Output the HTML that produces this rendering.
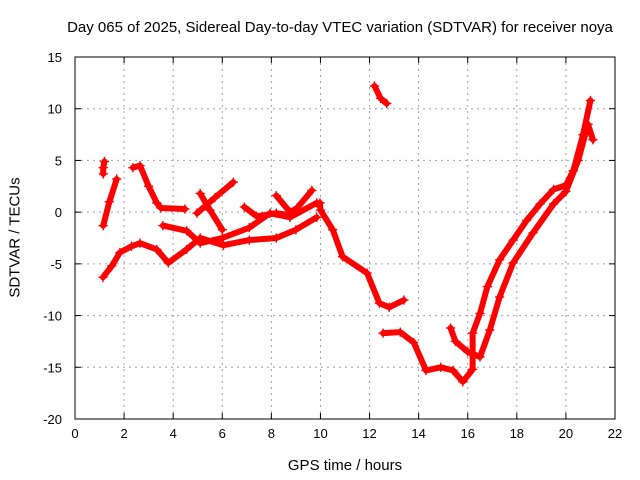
<!DOCTYPE html>
<html><head><meta charset="utf-8"><style>
body{margin:0;background:#fff}
svg{display:block;font-family:"Liberation Sans",sans-serif;font-size:13px}
</style></head><body>
<svg id="c" width="640" height="480"></svg>
<script>
const xTicks=[0,2,4,6,8,10,12,14,16,18,20,22];
const yTicks=[15,10,5,0,-5,-10,-15,-20];
const trackA=[[1.14,-6.3],[1.5,-5.2],[1.83,-3.9],[2.3,-3.3],[2.65,-3.0],[3.33,-3.6],[3.8,-4.9],[4.55,-3.6],[5.1,-2.5],[6.05,-3.2],[7.1,-2.7],[8.2,-2.5],[9.0,-1.7],[9.85,-0.5]];
const trackB=[[2.36,4.3],[2.65,4.5],[3.0,2.5],[3.33,0.9],[3.5,0.4],[4.48,0.3]];
const trackC=[[3.58,-1.3],[4.55,-1.8],[5.1,-3.0],[6.0,-2.5],[7.1,-1.5],[7.95,-0.1],[8.76,-0.5],[9.85,0.9]];
const trackD1=[[5.1,1.8],[5.5,0.2],[6.0,-1.7]];
const trackD2=[[4.97,-0.1],[5.7,1.4],[6.45,2.9]];
const trackE=[[6.9,0.5],[7.4,-0.4],[8.2,-0.1],[8.76,-0.3]];
const trackF=[[8.2,1.6],[8.76,0.0],[9.05,0.4],[9.65,2.1]];
const trackG=[[9.98,0.9],[10.0,0.2],[10.5,-1.7],[10.9,-4.3],[11.9,-5.9],[12.4,-8.8],[12.8,-9.2],[13.4,-8.5]];
const trackH=[[12.2,12.2],[12.45,11.0],[12.7,10.5]];
const trackI=[[12.55,-11.7],[13.25,-11.6],[13.8,-12.6],[14.3,-15.3],[14.9,-15.0],[15.4,-15.3],[15.8,-16.4],[16.2,-15.2],[16.2,-11.7],[16.5,-9.8],[16.8,-7.2],[17.3,-4.6],[17.85,-2.7],[18.4,-0.8],[18.95,0.8],[19.5,2.2],[20.0,2.6],[20.3,4.0],[20.7,7.5],[21.0,10.8]];
const trackJ=[[15.3,-11.2],[15.5,-12.5],[16.0,-13.5],[16.5,-14.0],[16.9,-11.4],[17.3,-8.2],[17.85,-4.9],[18.66,-2.0],[19.5,0.8],[20.0,2.0],[20.5,5.0],[20.9,8.5],[21.1,7.0]];
const trackK=[[1.15,-1.3],[1.4,1.0],[1.7,3.2]];
const trackL=[[1.15,3.7],[1.15,4.3],[1.2,4.9]];
const tracks=[trackA,trackB,trackC,trackD1,trackD2,trackE,trackF,trackG,trackH,trackI,trackJ,trackK,trackL];
const L=75,R=615,T=57,B=419;
const xs=h=>L+(h-0)/22*(R-L);
const ys=v=>T+(15-v)/35*(B-T);
const svg=document.getElementById('c');
const NS='http://www.w3.org/2000/svg';
function mk(tag,attrs,parent){const e=document.createElementNS(NS,tag);for(const k in attrs)e.setAttribute(k,attrs[k]);(parent||svg).appendChild(e);return e;}
const grid=mk('g',{});


xTicks.forEach(t=>{
  if(t>0&&t<22)mk('line',{x1:xs(t),x2:xs(t),y1:T,y2:B,stroke:'#a0a0a0','stroke-dasharray':'2,4'},grid);
  mk('line',{x1:xs(t),x2:xs(t),y1:B,y2:B-6,stroke:'#000'},grid);
  mk('line',{x1:xs(t),x2:xs(t),y1:T,y2:T+6,stroke:'#000'},grid);
  const tx=mk('text',{x:xs(t),y:B+19,'text-anchor':'middle'});
  
  
  tx.textContent=t;
});
yTicks.forEach(t=>{
  if(t<15&&t>-20)mk('line',{x1:L,x2:R,y1:ys(t),y2:ys(t),stroke:'#a0a0a0','stroke-dasharray':'2,4'},grid);
  mk('line',{x1:L,x2:L+6,y1:ys(t),y2:ys(t),stroke:'#000'},grid);
  mk('line',{x1:R,x2:R-6,y1:ys(t),y2:ys(t),stroke:'#000'},grid);
  const tx=mk('text',{x:L-13,y:ys(t)+5,'text-anchor':'end'});
  
  
  tx.textContent=t;
});
const series=mk('g',{fill:'none',stroke:'#ff0000','stroke-width':6,'stroke-linejoin':'round','stroke-linecap':'round'});


tracks.forEach(tr=>{
  const p=mk('polyline',{points:tr.map(d=>xs(d[0])+','+ys(d[1])).join(' ')},series);
  
  
  tr.forEach(d=>{
    const m=mk('path',{d:`M${xs(d[0])-4},${ys(d[1])}h8M${xs(d[0])},${ys(d[1])-4}v8`,'stroke-width':1.5},series);
    
    
  });
});
const fr=mk('rect',{x:L,y:T,width:R-L,height:B-T,fill:'none',stroke:'#000'});


</script>
<div style="position:absolute;left:0;top:0;width:640px;height:480px;font-family:'Liberation Sans',sans-serif;font-size:15px;pointer-events:none">
<div style="position:absolute;left:0;width:680px;top:19px;text-align:center;font-size:15px">Day 065 of 2025, Sidereal Day-to-day VTEC variation (SDTVAR) for receiver noya</div>
<div style="position:absolute;left:75px;width:540px;top:457px;text-align:center">GPS time / hours</div>
<div style="position:absolute;left:-70px;top:229px;width:170px;text-align:center;transform:rotate(-90deg)">SDTVAR / TECUs</div>
</div>
</body></html>
